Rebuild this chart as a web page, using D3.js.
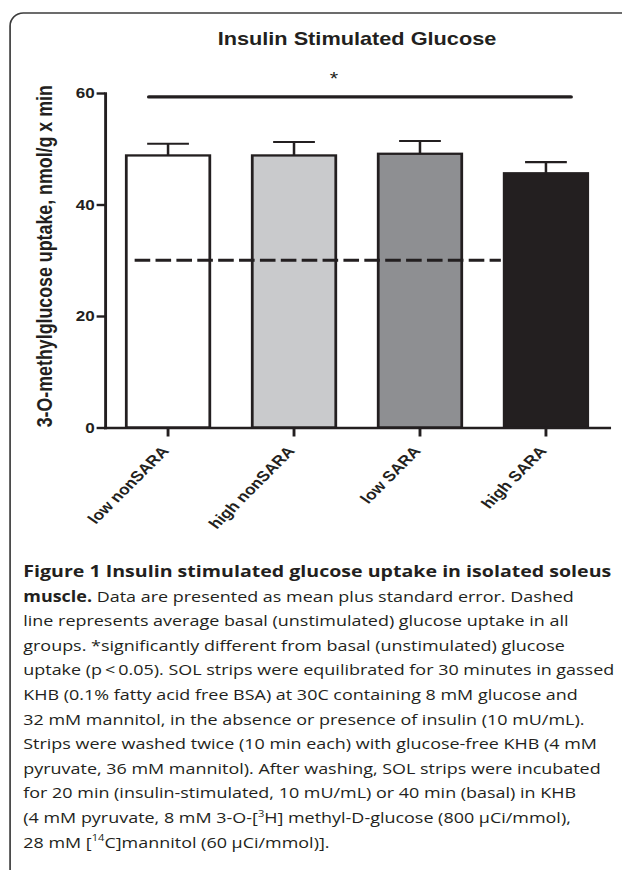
<!DOCTYPE html>
<html><head><meta charset="utf-8">
<script src="https://cdn.jsdelivr.net/npm/d3@7"></script>
<style>
html,body{margin:0;padding:0;background:#fff;}
svg{display:block;}
</style></head>
<body>
<svg id="chart" width="622" height="870"></svg>
<script>
// ---- data ----
const categories = ["low nonSARA", "high nonSARA", "low SARA", "high SARA"];
const means = [48.8, 48.8, 49.1, 45.6];
const sems = [2.1, 2.4, 2.3, 2.0];
const fills = ["#ffffff", "#c9cacc", "#8e8f92", "#231f20"];
const yTicks = [0, 20, 40, 60];
const yDomain = [0, 60];
const basalMean = 30.0;
const sigLevel = 59.3;
const sigMark = "*";
const titleText = "Insulin Stimulated Glucose";
const yLabelText = "3-O-methylglucose uptake, nmol/g x min";
const captionLines = [
  [{t: "Figure 1 Insulin stimulated glucose uptake in isolated soleus", b: true}],
  [{t: "muscle.", b: true}, {t: " Data are presented as mean plus standard error. Dashed"}],
  [{t: "line represents average basal (unstimulated) glucose uptake in all"}],
  [{t: "groups. *significantly different from basal (unstimulated) glucose"}],
  [{t: "uptake (p\u2009<\u20090.05). SOL strips were equilibrated for 30 minutes in gassed"}],
  [{t: "KHB (0.1% fatty acid free BSA) at 30C containing 8 mM glucose and"}],
  [{t: "32 mM mannitol, in the absence or presence of insulin (10 mU/mL)."}],
  [{t: "Strips were washed twice (10 min each) with glucose-free KHB (4 mM"}],
  [{t: "pyruvate, 36 mM mannitol). After washing, SOL strips were incubated"}],
  [{t: "for 20 min (insulin-stimulated, 10 mU/mL) or 40 min (basal) in KHB"}],
  [{t: "(4 mM pyruvate, 8 mM 3-O-["}, {t: "3", sup: true}, {t: "H] methyl-D-glucose (800 \u00b5Ci/mmol),"}],
  [{t: "28 mM ["}, {t: "14", sup: true}, {t: "C]mannitol (60 \u00b5Ci/mmol)]."}]
];

// ---- layout ----
const SX = 1.2;               // horizontal stretch of the reference
const ink = "#231f20";
const chartFont = "'Liberation Sans', Arial, Helvetica, sans-serif";
const capFont = "'Open Sans', 'Noto Sans', sans-serif";

const svg = d3.select("#chart");
const g = svg.append("g").attr("transform", `scale(${SX},1)`);

// frame
g.append("rect")
  .attr("x", 8.4).attr("y", 13).attr("width", 700).attr("height", 1000)
  .attr("rx", 11).attr("ry", 13)
  .attr("fill", "none").attr("stroke", "#3c3c3c").attr("stroke-width", 1.4);

const x = d3.scaleBand().domain(categories).range([87.5, 507.5])
  .paddingInner(0.337).paddingOuter(0.169);
const y = d3.scaleLinear().domain(yDomain).range([427.5, 93]);
const bw = x.bandwidth();

const data = categories.map((c, i) => ({c, m: means[i], se: sems[i], fill: fills[i]}));

// bars
g.append("g").selectAll("rect").data(data).join("rect")
  .attr("x", d => x(d.c)).attr("y", d => y(d.m))
  .attr("width", bw).attr("height", d => y(0) - y(d.m))
  .attr("fill", d => d.fill).attr("stroke", ink).attr("stroke-width", 2.3);

// error bars
const eb = g.append("g").attr("stroke", ink).attr("stroke-width", 2.1).attr("fill", "none");
eb.selectAll("line.v").data(data).join("line").attr("class", "v")
  .attr("x1", d => x(d.c) + bw / 2).attr("x2", d => x(d.c) + bw / 2)
  .attr("y1", d => y(d.m)).attr("y2", d => y(d.m + d.se));
eb.selectAll("line.cap").data(data).join("line").attr("class", "cap")
  .attr("x1", d => x(d.c) + bw / 4).attr("x2", d => x(d.c) + bw * 3 / 4)
  .attr("y1", d => y(d.m + d.se)).attr("y2", d => y(d.m + d.se));

// basal dashed line
g.append("line")
  .attr("x1", x(categories[0]) + 0.1 * bw).attr("x2", x(categories[3]) - 0.04 * bw)
  .attr("y1", y(basalMean)).attr("y2", y(basalMean))
  .attr("stroke", ink).attr("stroke-width", 3).attr("stroke-dasharray", "13,4.4");

// significance line and star
g.append("line")
  .attr("x1", x(categories[0]) + 0.27 * bw).attr("x2", x(categories[3]) + 0.8 * bw)
  .attr("y1", y(sigLevel)).attr("y2", y(sigLevel))
  .attr("stroke", ink).attr("stroke-width", 3.2).attr("stroke-linecap", "round");
g.append("text").text(sigMark)
  .attr("x", x(categories[1]) + bw - 1.5).attr("y", y(sigLevel) - 12)
  .attr("text-anchor", "middle").attr("font-family", chartFont)
  .attr("font-size", 18).attr("fill", ink);

// axes
const yAxis = g.append("g").attr("transform", `translate(${x.range()[0]},0)`)
  .call(d3.axisLeft(y).tickValues(yTicks).tickSize(7).tickPadding(1.5).tickSizeOuter(0));
const xAxis = g.append("g").attr("transform", `translate(0,${y(0)})`)
  .call(d3.axisBottom(x).tickSize(9).tickSizeOuter(0).tickFormat(""));
[yAxis, xAxis].forEach(a => {
  a.select(".domain").attr("stroke", ink).attr("stroke-width", 2.4).attr("stroke-linecap", "square");
  a.selectAll(".tick line").attr("stroke", ink).attr("stroke-width", 2.4);
});
yAxis.selectAll(".tick text")
  .attr("font-family", chartFont).attr("font-weight", "bold").attr("font-size", 14.2).attr("fill", ink);

// x labels
g.append("g").selectAll("text").data(categories).join("text")
  .text(d => d)
  .attr("transform", d => `translate(${x(d) + bw / 2 + 1.4},${y(0) + 24}) rotate(-50)`)
  .attr("text-anchor", "end")
  .attr("font-family", chartFont).attr("font-weight", "bold").attr("font-size", 14.5).attr("fill", ink);

// title
g.append("text").text(titleText)
  .attr("x", (x.range()[0] + x.range()[1]) / 2).attr("y", 45)
  .attr("text-anchor", "middle")
  .attr("font-family", chartFont).attr("font-weight", "bold").attr("font-size", 18.1).attr("fill", ink);

// y label
g.append("text").text(yLabelText)
  .attr("transform", `translate(37.5,${(y(0) + 85) / 2}) rotate(-90)`)
  .attr("dy", "0.35em").attr("text-anchor", "middle")
  .attr("font-family", chartFont).attr("font-weight", "bold").attr("font-size", 17.8).attr("fill", ink);

// caption
const capLeft = 19.4;
const cap = g.append("g").attr("font-family", capFont).attr("fill", ink);
const capSize = 15.2;
captionLines.forEach((segs, i) => {
  const t = cap.append("text").attr("x", capLeft).attr("y", 577 + i * 24.6).attr("font-size", capSize);
  let shifted = false;
  segs.forEach(s => {
    const ts = t.append("tspan").text(s.t);
    if (s.b) ts.attr("font-weight", "bold");
    if (s.sup) { ts.attr("font-size", capSize * 0.62).attr("dy", -capSize * 0.42); shifted = true; }
    else if (shifted) { ts.attr("dy", capSize * 0.42); shifted = false; }
  });
});
// fit caption width to the reference (longest regular line)
const capNodes = cap.selectAll("text").nodes();
const k = 492 / capNodes[4].getComputedTextLength();
cap.attr("transform", `translate(${capLeft},0) scale(${k},1) translate(${-capLeft},0)`);
// bold heading line is wider in the reference typeface
d3.select(capNodes[0]).attr("textLength", 490 / k).attr("lengthAdjust", "spacingAndGlyphs");
</script>
</body></html>
